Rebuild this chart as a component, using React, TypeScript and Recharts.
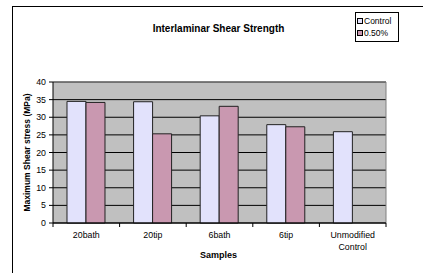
import { BarChart, Bar, XAxis, YAxis, CartesianGrid } from "recharts";

const samples = ["20bath", "20tip", "6bath", "6tip", "Unmodified Control"];
const control = [34.5, 34.4, 30.4, 27.9, 25.9];
const pct050 = [34.2, 25.3, 33.1, 27.3, null];
const yTicks = [0, 5, 10, 15, 20, 25, 30, 35, 40];

const data = samples.map((s, i) => ({ sample: s, control: control[i], pct050: pct050[i] }));

const FONT = "'Liberation Sans', Arial, sans-serif";
const C_CONTROL = "#e2e2fc";
const C_PCT = "#c998b0";

function SampleTick(props: any) {
  const { x, y, payload, index, width, visibleTicksCount } = props;
  const band = width / visibleTicksCount;
  const lines = String(payload.value).split(" ");
  const last = index === visibleTicksCount - 1;
  return (
    <g>
      <line x1={x - band / 2} x2={x - band / 2} y1={y - 12} y2={y - 8} stroke="#000" />
      {last && <line x1={x + band / 2} x2={x + band / 2} y1={y - 12} y2={y - 8} stroke="#000" />}
      {lines.map((l, i) => (
        <text key={i} x={x} y={y + i * 12} textAnchor="middle" dominantBaseline="central" fontSize={8.8} style={{ fill: "#000", stroke: "none" }} fontFamily={FONT}>
          {l}
        </text>
      ))}
    </g>
  );
}

function LegendBox() {
  const items = [
    { label: "Control", color: C_CONTROL },
    { label: "0.50%", color: C_PCT },
  ];
  return (
    <div style={{ position: "absolute", left: 355, top: 12, border: "1px solid #000", background: "#fff", padding: "2px 1px", width: 44, boxSizing: "border-box", fontFamily: FONT, fontSize: 8.5, lineHeight: "12px", color: "#000" }}>
      {items.map((it) => (
        <div key={it.label} style={{ display: "flex", alignItems: "center", whiteSpace: "nowrap" }}>
          <span style={{ display: "inline-block", width: 4, height: 4, border: "1px solid #000", background: it.color, marginRight: 1 }} />
          {it.label}
        </div>
      ))}
    </div>
  );
}

export default function App() {
  return (
    <div style={{ position: "relative", width: 423, height: 273, overflow: "hidden", background: "#fff" }}>
      <style>{`body{margin:0}`}</style>
      <div style={{ position: "absolute", left: 12, top: 6, width: 500, height: 400, border: "1px solid #000" }} />
      <div style={{ position: "absolute", left: 0, top: 23, width: 437, textAlign: "center", fontFamily: FONT, fontSize: 10, fontWeight: 700 }}>
        Interlaminar Shear Strength
      </div>
      <div style={{ position: "absolute", left: 0, top: 250, width: 437, textAlign: "center", fontFamily: FONT, fontSize: 9, fontWeight: 700 }}>
        Samples
      </div>
      <div style={{ position: "absolute", left: 0, top: 0 }}>
        <BarChart width={423} height={273} data={data} margin={{ top: 82, right: 37, bottom: 20, left: 0 }} barGap={0} barCategoryGap="21%">
          <CartesianGrid fill="#c0c0c0" stroke="#000" vertical={false} />
          <CartesianGrid
            stroke="#808080"
            horizontalCoordinatesGenerator={({ offset }: any) => [offset.top]}
            verticalCoordinatesGenerator={({ offset }: any) => [offset.left + offset.width]}
          />
          <XAxis dataKey="sample" height={30} stroke="#000" tickLine={false} tickSize={4} tickMargin={8} interval={0} tick={<SampleTick />} />
          <YAxis
            domain={[0, 40]}
            ticks={yTicks}
            interval={0}
            width={53}
            stroke="#000"
            tickSize={4}
            tickMargin={3}
            tick={{ fontSize: 8.8, fill: "#000", fontFamily: FONT }}
            label={{
              content: ({ viewBox }: any) => (
                <text
                  x={viewBox.x + 27}
                  y={viewBox.y + viewBox.height / 2}
                  transform={`rotate(-90 ${viewBox.x + 27} ${viewBox.y + viewBox.height / 2})`}
                  textAnchor="middle"
                  dominantBaseline="central"
                  fontSize={8.5}
                  fontWeight={700}
                  fontFamily={FONT}
                  fill="#000"
                >
                  Maximum Shear stress (MPa)
                </text>
              ),
            }}
          />
          <Bar dataKey="control" name="Control" fill={C_CONTROL} stroke="#222" strokeWidth={1} isAnimationActive={false} />
          <Bar dataKey="pct050" name="0.50%" fill={C_PCT} stroke="#222" strokeWidth={1} isAnimationActive={false} />
        </BarChart>
      </div>
      <LegendBox />
    </div>
  );
}
